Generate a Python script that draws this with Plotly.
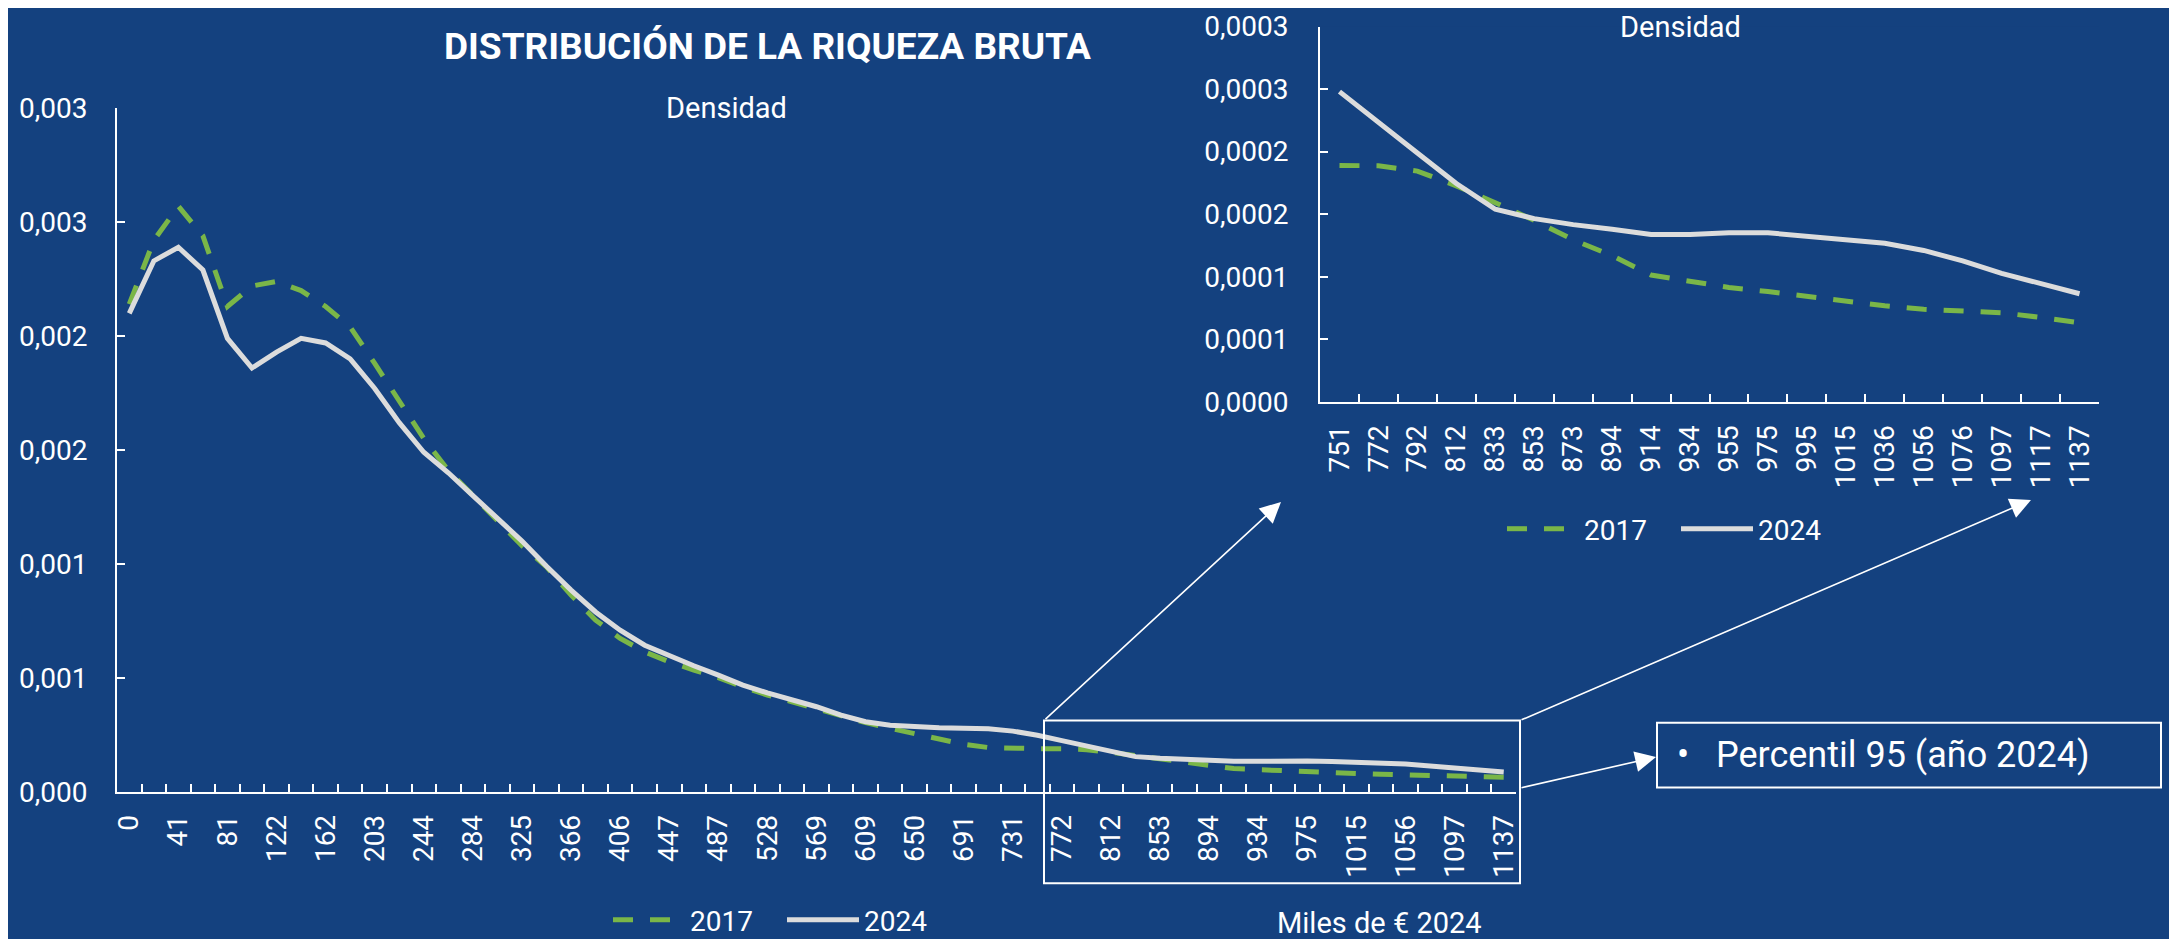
import plotly.graph_objects as go

# target canvas (screenshot) and page offset of the plot div (default body margin)
W_SHOT, H_SHOT = 2177, 939
OFF = 8
W, H = W_SHOT - OFF, H_SHOT - OFF

# ---------------- data ----------------
categories = ["0", "20", "41", "61", "81", "102", "122", "142", "162", "183",
              "203", "223", "244", "264", "284", "305", "325", "345", "366", "386",
              "406", "426", "447", "467", "487", "508", "528", "548", "569", "589",
              "609", "629", "650", "670", "691", "711", "731", "751", "772", "792",
              "812", "833", "853", "873", "894", "914", "934", "955", "975", "995",
              "1015", "1036", "1056", "1076", "1097", "1117", "1137"]

dens_2017 = [0.00214, 0.00242, 0.00257, 0.00244, 0.00213, 0.00222, 0.00224, 0.00220, 0.00213, 0.00204,
             0.00188, 0.00171, 0.00155, 0.00141, 0.00130, 0.00119, 0.00108, 0.000987, 0.000863, 0.000753,
             0.000673, 0.000614, 0.000570, 0.000534, 0.000501, 0.000460, 0.000424, 0.000395, 0.000365, 0.000332,
             0.000303, 0.000278, 0.000256, 0.000230, 0.000208, 0.000194, 0.000190, 0.000189, 0.0001887, 0.0001845,
             0.0001727, 0.0001592, 0.0001451, 0.0001296, 0.0001169, 0.0001014, 0.0000966, 0.0000915, 0.0000882, 0.0000842,
             0.0000803, 0.0000769, 0.0000741, 0.0000724, 0.0000713, 0.0000676, 0.0000633]

dens_2024 = [0.00210, 0.00233, 0.00239, 0.00229, 0.00199, 0.00186, 0.00193, 0.00199, 0.00197, 0.00190,
             0.00177, 0.00162, 0.00149, 0.00140, 0.00130, 0.00120, 0.00110, 0.00099, 0.000885, 0.000789,
             0.000709, 0.000643, 0.000595, 0.000553, 0.000512, 0.000468, 0.000434, 0.000406, 0.000373, 0.000336,
             0.000307, 0.000292, 0.000285, 0.000281, 0.000279, 0.000276, 0.000266, 0.000248, 0.000224, 0.000199,
             0.0001746, 0.000154, 0.0001465, 0.0001417, 0.000138, 0.0001338, 0.0001338, 0.0001352, 0.0001352, 0.0001324,
             0.0001304, 0.0001268, 0.0001211, 0.0001127, 0.0001028, 0.0000944, 0.0000865]

inset_start = "751"

main_y_ticks = [0, 0.0005, 0.001, 0.0015, 0.002, 0.0025, 0.003]
main_y_labels = ["0,000", "0,001", "0,001", "0,002", "0,002", "0,003", "0,003"]
inset_y_ticks = [0, 0.00005, 0.0001, 0.00015, 0.0002, 0.00025, 0.0003]
inset_y_labels = ["0,0000", "0,0001", "0,0001", "0,0002", "0,0002", "0,0003", "0,0003"]

series_names = ["2017", "2024"]

# ---------------- style ----------------
BG = "#14417F"
GREEN = "#7AB648"
LIGHT = "#DCDCDC"
WHITE = "#FFFFFF"
FONT = "Roboto"


def px(x):
    return (x - OFF) / W


def py(y):
    return 1 - (y - OFF) / H


k0 = categories.index(inset_start)
inset_cats = categories[k0:]
main_tick_text = [c if i % 2 == 0 else "" for i, c in enumerate(categories)]

fig = go.Figure()

dash_style = dict(color=GREEN, width=5, dash="20px,17px")
solid_style = dict(color=LIGHT, width=5)

# main chart
fig.add_trace(go.Scatter(x=categories, y=dens_2017, name=series_names[0], mode="lines",
                         line=dash_style, xaxis="x", yaxis="y", legend="legend"))
fig.add_trace(go.Scatter(x=categories, y=dens_2024, name=series_names[1], mode="lines",
                         line=solid_style, xaxis="x", yaxis="y", legend="legend"))
# inset (zoom on the top 5%)
fig.add_trace(go.Scatter(x=inset_cats, y=dens_2017[k0:], name=series_names[0], mode="lines",
                         line=dash_style, xaxis="x2", yaxis="y2", legend="legend2"))
fig.add_trace(go.Scatter(x=inset_cats, y=dens_2024[k0:], name=series_names[1], mode="lines",
                         line=solid_style, xaxis="x2", yaxis="y2", legend="legend2"))

axis_common = dict(showgrid=False, zeroline=False, showline=True, linecolor=WHITE, linewidth=2,
                   ticks="inside", ticklen=8, tickwidth=2, tickcolor=WHITE, automargin=False,
                   ticklabeloverflow="allow",
                   tickfont=dict(family=FONT, size=28, color=WHITE))

legend_common = dict(orientation="h", xanchor="left", yanchor="middle",
                     font=dict(family=FONT, size=28, color=WHITE), bgcolor="rgba(0,0,0,0)",
                     itemwidth=72, entrywidth=87, entrywidthmode="pixels")

fig.update_layout(
    width=W, height=H,
    margin=dict(l=0, r=0, t=0, b=0, pad=0, autoexpand=False),
    paper_bgcolor=BG, plot_bgcolor=BG,
    font=dict(family=FONT, color=WHITE),
    xaxis=dict(type="category", domain=[px(117), px(1516)], range=[-0.5, len(categories) - 0.5],
               tickmode="array", tickvals=categories, ticktext=main_tick_text,
               tickson="boundaries", tickangle=-90, anchor="y", ticklabelstandoff=10, **axis_common),
    yaxis=dict(domain=[py(791.7), py(108.3)], range=[0, 0.003],
               tickmode="array", tickvals=main_y_ticks, ticktext=main_y_labels,
               anchor="x", ticklabelstandoff=22, **axis_common),
    xaxis2=dict(type="category", domain=[px(1320), px(2099)], range=[-0.5, len(inset_cats) - 0.5],
                tickmode="array", tickvals=inset_cats, ticktext=inset_cats,
                tickson="boundaries", tickangle=-90, anchor="y2", ticklabelstandoff=10, **axis_common),
    yaxis2=dict(domain=[py(402), py(26.5)], range=[0, 0.0003],
                tickmode="array", tickvals=inset_y_ticks, ticktext=inset_y_labels,
                anchor="x2", ticklabelstandoff=24, **axis_common),
    legend=dict(x=px(608), y=py(920), **legend_common),
    legend2=dict(x=px(1502), y=py(529), **legend_common),
    showlegend=True,
)

annotations = [
    dict(text="<b>DISTRIBUCIÓN DE LA RIQUEZA BRUTA</b>", x=px(767), y=py(46),
         font=dict(family=FONT, size=37, color=WHITE)),
    dict(text="Densidad", x=px(726), y=py(108), font=dict(family=FONT, size=29, color=WHITE)),
    dict(text="Densidad", x=px(1680), y=py(8), yanchor="top", font=dict(family=FONT, size=29, color=WHITE)),
    dict(text="Miles de € 2024", x=px(1379), y=py(923), font=dict(family=FONT, size=29, color=WHITE)),
    dict(text="•", x=px(1683), y=py(755), font=dict(family=FONT, size=36, color=WHITE)),
    dict(text="Percentil 95 (año 2024)", x=px(1714), y=py(755), xanchor="left",
         font=dict(family=FONT, size=36, color=WHITE)),
]
for a in annotations:
    a.update(xref="paper", yref="paper", showarrow=False)
    a.setdefault("xanchor", "center")
    a.setdefault("yanchor", "middle")

# arrows: (tip, tail) in screenshot pixels
arrows = [((1281, 502), (1044, 720.5)),
          ((2031, 500), (1520, 720.5)),
          ((1656, 757), (1520, 788))]
for (tx, ty), (sx, sy) in arrows:
    annotations.append(dict(x=px(tx), y=py(ty), xref="paper", yref="paper", text="",
                            showarrow=True, arrowhead=2, arrowsize=2.6, arrowwidth=1.6,
                            arrowcolor=WHITE, ax=sx - tx, ay=sy - ty, standoff=0))

fig.update_layout(annotations=annotations)

fig.add_shape(type="rect", xref="paper", yref="paper",
              x0=px(1044), x1=px(1520), y0=py(883.3), y1=py(720.5),
              line=dict(color=WHITE, width=2))
fig.add_shape(type="rect", xref="paper", yref="paper",
              x0=px(1657), x1=px(2161), y0=py(787.5), y1=py(722.7),
              line=dict(color=WHITE, width=2))

fig.write_html("out.html")
